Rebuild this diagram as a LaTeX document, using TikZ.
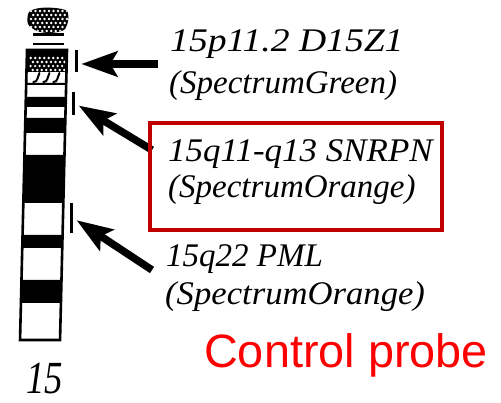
\documentclass[tikz,border=0pt]{standalone}
\usepackage{fontspec}
\setmainfont{Liberation Serif}
\newfontfamily\ctrlfont{Liberation Sans}
\usetikzlibrary{arrows.meta}
\definecolor{boxred}{HTML}{C00000}
\definecolor{ctrlred}{HTML}{FF0000}
\tikzset{
  chrom/.style={draw=black, line width=2.6pt},
  band/.style={fill=black},
  stalk/.style={draw=black, line width=2.4pt},
  dotw/.style={fill=white},
  hook/.style={draw=black, line width=2pt, line cap=round},
  tick/.style={fill=black, inner sep=0pt, minimum width=3pt},
  probe/.style={draw=black, line width=7.5pt, -{Stealth[length=36pt, width=25pt, inset=7pt]}},
  lab/.style={anchor=base west, inner sep=0pt, font=\fontsize{33}{36}\selectfont\itshape},
  redbox/.style={draw=boxred, line width=4pt, inner sep=0pt},
  ctrl/.style={anchor=base west, inner sep=0pt, text=ctrlred, font=\ctrlfont\fontsize{46.8}{50}\selectfont},
}
% stretch a label sideways
\newcommand{\wide}[2]{\scalebox{#1}[1]{#2}}

\begin{document}
\begin{tikzpicture}[x=1pt, y=-1pt]
  \fill[white] (0,0) rectangle (501,403);
  \useasboundingbox (0,0) rectangle (501,403);

  % satellite and stalk
  \begin{scope}
    \clip plot[smooth cycle] coordinates {(29,12) (40,8) (55,8) (67,11) (68,21) (64,30) (50,33) (37,31) (28,24)};
    \fill[band] (25,5) rectangle (70,35);
    \foreach \r in {0,...,5}
      \foreach \c in {0,...,8}
        \fill[dotw] ({31+4.5*\c+2.25*mod(\r,2)}, {11+4*\r}) circle (1.35);
  \end{scope}
  \draw[stalk] (33,34.5) -- (64,34.5);
  \draw[stalk] (33,44) -- (64,44);

  % chromosome body, leaning slightly
  \begin{scope}[shift={(27,50)}, xslant=0.024]
    \foreach \a/\b in {0/5, 33/35, 47/57, 68/83, 105/153, 185/198, 230/253}
      \fill[band] (0,\a) rectangle (40,\b);
    \fill[band] (0,5) rectangle (40,22);
    \foreach \r in {0,...,3}
      \foreach \c in {0,...,7}
        \fill[dotw] ({4+4.5*\c+2.25*mod(\r,2)}, {8+4*\r}) circle (1.35);
    \foreach \h in {10,20,30}
      \draw[hook] (\h+3,23) -- (\h+1,29) .. controls (\h,31.5) .. (\h-3,32);
    \draw[chrom] (0,0) rectangle (40,290);
    % probe sites
    \node[tick, minimum height=22pt] (tick1) at (49.8,11) {};
    \node[tick, minimum height=23pt] (tick2) at (47.8,53.5) {};
    \node[tick, minimum height=30pt] (tick3) at (48.5,168) {};
  \end{scope}

  % arrows
  \coordinate (tail1) at (158,64);
  \coordinate (tail2) at (152,150);
  \coordinate (tail3) at (152,270);
  \draw[probe, shorten >=3pt] (tail1) -- (tail1 -| tick1.east);
  \draw[probe, shorten >=4pt] (tail2) -- (tick2.east);
  \draw[probe, shorten >=4pt] (tail3) -- (tick3.east);

  % labels
  \node[lab] (p1a) at (170,52) {\wide{1.14}{15p11.2 D15Z1}};
  \node[lab] (p1b) at (169,94) {(SpectrumGreen)};
  \node[redbox, minimum width=292pt, minimum height=107pt] (box) at (296,176.5) {};
  \node[lab] (p2a) at (168,162) {\wide{1.06}{15q11-q13 SNRPN}};
  \node[lab] (p2b) at (168,198) {(SpectrumOrange)};
  \node[lab] (p3a) at (166,267) {15q22 PML};
  \node[lab] (p3b) at (165,305) {\wide{1.05}{(SpectrumOrange)}};
  \node[lab, font=\fontsize{46}{50}\selectfont\itshape] (chr) at (26,394) {\wide{0.8}{15}};
  \node[ctrl] (ctrl) at (204,368) {Control probe};
\end{tikzpicture}
\end{document}
